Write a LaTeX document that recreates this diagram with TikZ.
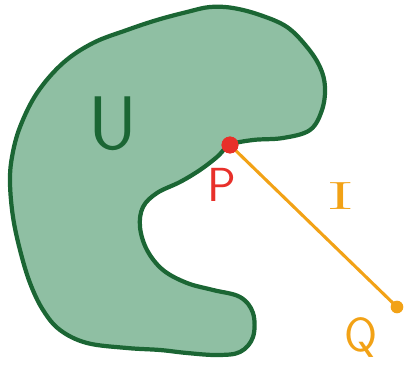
\documentclass[tikz,border=0pt]{standalone}
\usepackage{tikz}
\usetikzlibrary{
  positioning,
  calc
}
\usepackage{xcolor}
\definecolor{setfill}{HTML}{8FBFA3}
\definecolor{setline}{HTML}{1B6634}
\definecolor{ptred}{HTML}{E8302A}
\definecolor{segorange}{HTML}{F2A216}
\tikzset{
  region/.style={
    draw=setline,
    line width=3pt,
    fill=setfill,
    line join=round
  },
  segment/.style={
    draw=segorange,
    line width=2.2pt,
    line cap=round
  },
  dot/.style={
    circle,
    inner sep=0pt,
    minimum size=#1
  },
  lbl/.style={
    font=\sffamily\fontsize{30}{30}\selectfont,
    inner sep=0pt
  }
}

\begin{document}
\begin{tikzpicture}[x=0.025cm, y=-0.025cm]
\useasboundingbox (0,0) rectangle (410,368);
% the set U
\draw[region] plot[smooth cycle, tension=0.6] coordinates {
  (230,145) (253,140) (283,138) (310,130) (322,110) (325,87) (320,67)
  (307,47) (287,27) (260,15) (233,8) (210,7) (187,12) (157,20) (127,30)
  (93,43) (63,63) (37,93) (20,127) (12,157) (10,183) (13,217) (20,250)
  (30,283) (43,310) (60,330) (87,343) (127,348) (160,350) (187,353)
  (217,355) (240,352) (253,337) (253,313) (240,297) (213,290) (187,283)
  (163,270) (147,250) (140,227) (143,207) (157,193) (180,182) (200,170)
  (217,157)
};
\node[lbl, text=setline, font=\sffamily\fontsize{54}{54}\selectfont] (U) at (113,124) {U};

% segment I from P to Q
\node[dot=12pt, fill=ptred] (P) at (230,145) {};
\node[dot=9pt, fill=segorange] (Q) at (397,307) {};
\draw[segment] (P.center) -- (Q.center);
\node[dot=12pt, fill=ptred] at (P) {};

\node[lbl, text=ptred, font=\sffamily\fontsize{34}{34}\selectfont] (Plbl) at (222,185) {P};
\node[lbl, text=segorange, font=\rmfamily\fontsize{28}{28}\selectfont] (Ilbl) at (341,196) {\scalebox{2.2}[1]{I}};
\node[lbl, text=segorange, font=\sffamily\fontsize{34}{34}\selectfont] (Qlbl) at (361,338) {Q};
\end{tikzpicture}
\end{document}
